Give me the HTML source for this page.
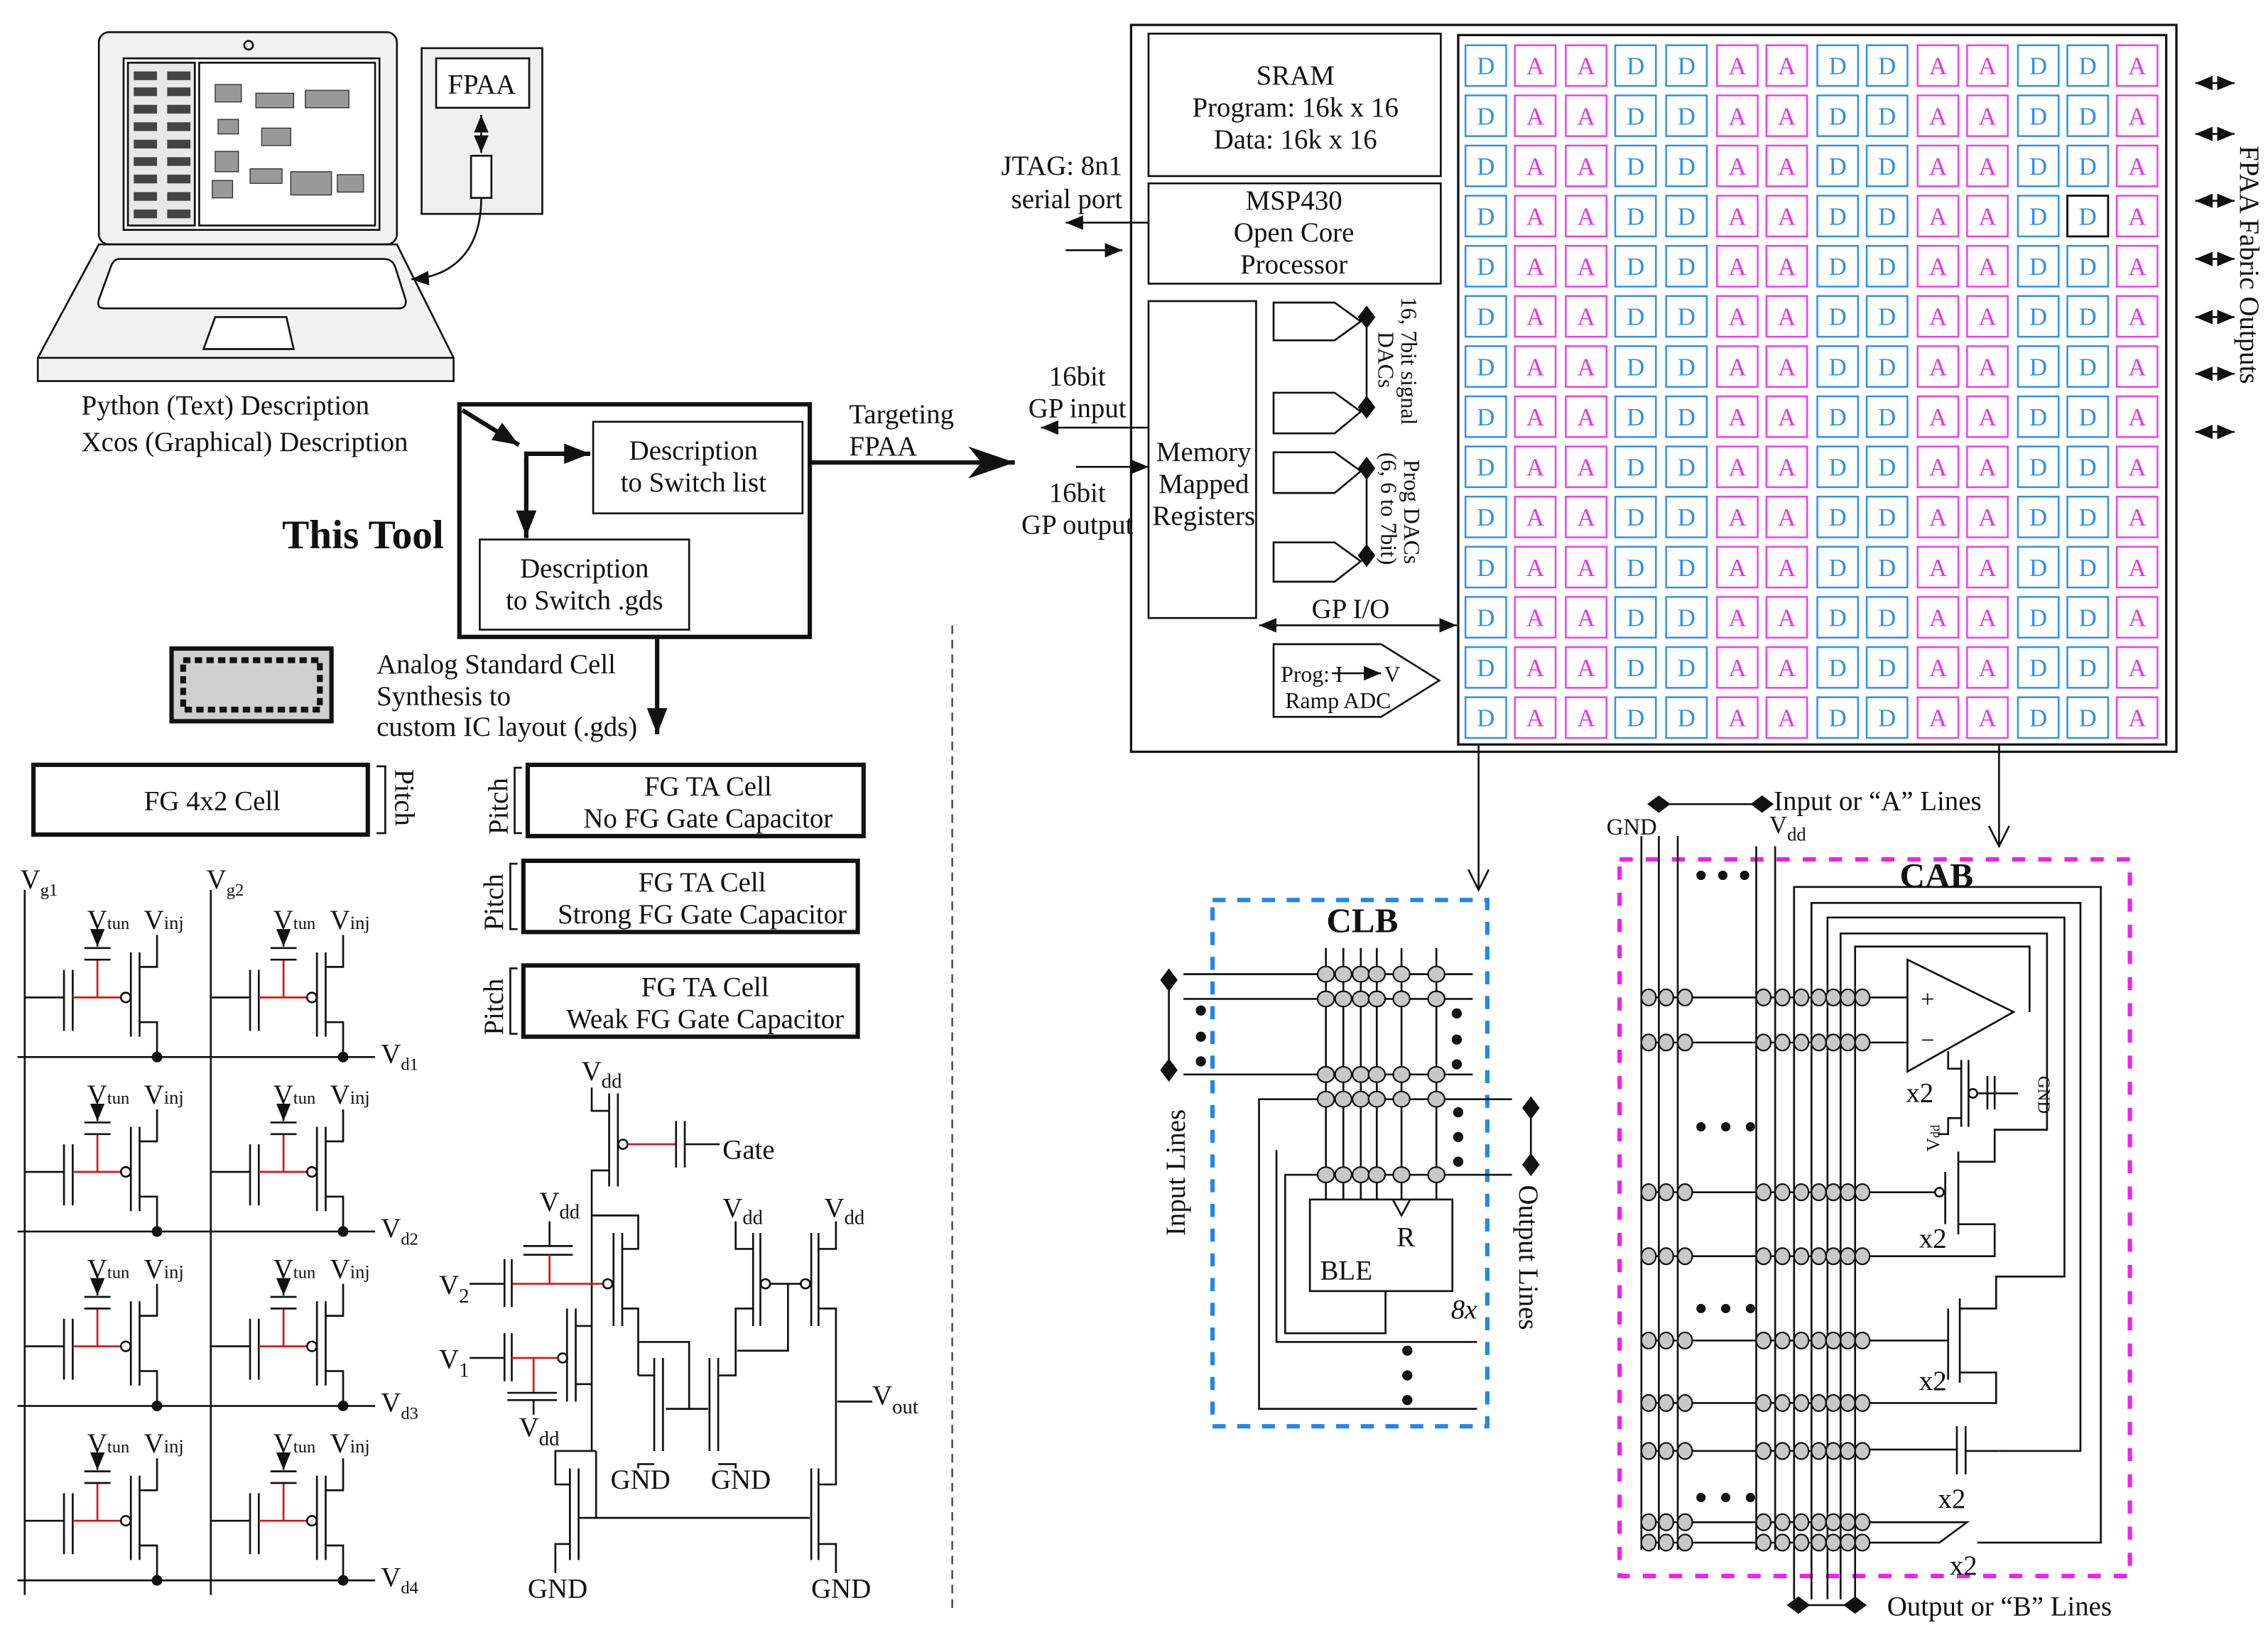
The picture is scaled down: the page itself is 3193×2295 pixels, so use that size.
<!DOCTYPE html>
<html><head><meta charset="utf-8"><style>
html,body{margin:0;padding:0;background:#fff}
svg{display:block}
text{font-family:"Liberation Serif",serif;font-size:19px;fill:#111}
.ln line,.ln path,.ln rect,.ln polygon,.ln circle,.ln ellipse{stroke:#111;stroke-width:1.3;fill:none}
.g rect{width:28px;height:28px;fill:#fff;stroke-width:1.2}
.g rect.d{stroke:#2c8ff0}.g rect.a{stroke:#f03cf0}
.g text{text-anchor:middle;font-size:17px}
.g text.d{fill:#2c8ff0}.g text.a{fill:#e830e8}
.red{stroke:#e01010 !important}
.el ellipse{fill:#c8c8c8;stroke:#111;stroke-width:1.1}
.c{text-anchor:middle}
</style></head><body>
<svg width="3193" height="2295" viewBox="0 0 1560 1121" xmlns="http://www.w3.org/2000/svg">
<defs>
<marker id="ar" markerUnits="userSpaceOnUse" markerWidth="12" markerHeight="10" refX="12" refY="5" orient="auto-start-reverse"><path d="M0,0 L12,5 L0,10 z" fill="#111"/></marker>
<marker id="big" markerUnits="userSpaceOnUse" markerWidth="34" markerHeight="22" refX="32" refY="11" orient="auto"><path d="M0,0 L32,11 L0,22 L9,11 z" fill="#111"/></marker>
<marker id="md" markerUnits="userSpaceOnUse" markerWidth="18" markerHeight="14" refX="18" refY="7" orient="auto"><path d="M0,0 L18,7 L0,14 z" fill="#111"/></marker>
<marker id="op" markerUnits="userSpaceOnUse" markerWidth="16" markerHeight="16" refX="8" refY="15" orient="0"><path d="M1,1 L8,15 L15,1" fill="none" stroke="#111" stroke-width="1.3"/></marker>
<marker id="dm" markerUnits="userSpaceOnUse" markerWidth="16" markerHeight="12" refX="8" refY="6" orient="auto"><path d="M0,6 L8,0 L16,6 L8,12 z" fill="#111"/></marker>
<g id="cell" class="ln">
<line x1="17" y1="686" x2="44" y2="686"/>
<line x1="44" y1="667" x2="44" y2="709"/><line x1="50" y1="667" x2="50" y2="709"/>
<path class="red" d="M50,686 H83 M67,686 V660"/>
<line x1="58" y1="660" x2="76" y2="660"/><line x1="58" y1="652" x2="76" y2="652"/>
<line x1="67" y1="642" x2="67" y2="651" marker-end="url(#ar)"/>
<circle cx="86.5" cy="686" r="3.3"/>
<line x1="90" y1="655" x2="90" y2="713"/><line x1="96" y1="655" x2="96" y2="713"/>
<path d="M96,665 H108 V643 M96,703 H108 V727"/>
<circle cx="108" cy="727" r="3" style="fill:#111"/>
</g>
</defs>

<!-- Laptop -->
<g class="ln">
<rect x="68" y="22" width="205" height="146" rx="7" style="fill:#f2f2f2"/>
<circle cx="171" cy="31" r="3"/>
<rect x="85" y="40" width="176" height="118" style="fill:#fff"/>
<rect x="88" y="43" width="46" height="112" style="fill:#e8e8e8"/>
<rect x="137" y="43" width="121" height="112" style="fill:#fff"/>
<path d="M68,168 L273,168 L312,246 L312,262 L26,262 L26,246 Z" style="fill:#f2f2f2"/>
<line x1="26" y1="246" x2="312" y2="246"/>
<path d="M82,178 L264,178 Q270,178 272,184 L279,206 Q280,212 274,212 L72,212 Q66,212 68,206 L76,184 Q78,178 82,178 Z" style="fill:#fff"/>
<path d="M148,218 L197,218 L202,240 L140,240 Z" style="fill:#fff"/>
<rect x="290" y="33" width="83" height="114" style="fill:#efefef"/>
<rect x="300" y="40" width="64" height="34" style="fill:#fff"/>
<line x1="331" y1="79" x2="331" y2="105" marker-start="url(#ar)" marker-end="url(#ar)"/>
<rect x="324" y="107" width="14" height="29" style="fill:#fff"/>
<path d="M331,136 C331,172 312,190 283,192" marker-end="url(#ar)"/>
</g>
<g fill="#444">
<rect x="92" y="49" width="16" height="6"/><rect x="115" y="49" width="16" height="6"/>
<rect x="92" y="60" width="16" height="6"/><rect x="115" y="60" width="16" height="6"/>
<rect x="92" y="72" width="16" height="6"/><rect x="115" y="72" width="16" height="6"/>
<rect x="92" y="84" width="16" height="6"/><rect x="115" y="84" width="16" height="6"/>
<rect x="92" y="96" width="16" height="6"/><rect x="115" y="96" width="16" height="6"/>
<rect x="92" y="108" width="16" height="6"/><rect x="115" y="108" width="16" height="6"/>
<rect x="92" y="120" width="16" height="6"/><rect x="115" y="120" width="16" height="6"/>
<rect x="92" y="132" width="16" height="6"/><rect x="115" y="132" width="16" height="6"/>
<rect x="92" y="144" width="16" height="6"/><rect x="115" y="144" width="16" height="6"/>
</g>
<g fill="#999" stroke="#222" stroke-width="0.6">
<rect x="148" y="58" width="18" height="12"/><rect x="176" y="64" width="26" height="10"/><rect x="210" y="62" width="30" height="12"/>
<rect x="150" y="82" width="14" height="10"/><rect x="180" y="88" width="20" height="12"/>
<rect x="148" y="104" width="16" height="14"/><rect x="172" y="116" width="22" height="10"/><rect x="200" y="118" width="28" height="16"/><rect x="232" y="120" width="18" height="12"/>
<rect x="146" y="124" width="14" height="12"/>
</g>
<text x="308" y="64" style="font-size:19px">FPAA</text>
<text x="56" y="285">Python (Text) Description</text>
<text x="56" y="310">Xcos (Graphical) Description</text>

<!-- This tool -->
<g class="ln">
<rect x="316" y="278" width="241" height="160" style="stroke-width:3"/>
<rect x="408" y="290" width="144" height="63"/>
<rect x="330" y="371" width="144" height="62"/>
<line x1="318" y1="282" x2="357" y2="306" style="stroke-width:3" marker-end="url(#md)"/>
<path d="M362,370 V312 H406" style="stroke-width:3" marker-end="url(#md)"/>
<line x1="362" y1="315" x2="362" y2="369" style="stroke-width:3" marker-end="url(#md)"/>
<line x1="557" y1="318" x2="698" y2="318" style="stroke-width:3" marker-end="url(#big)"/>
<line x1="452" y1="438" x2="452" y2="505" style="stroke-width:3" marker-end="url(#md)"/>
<line x1="655" y1="430" x2="655" y2="1110" style="stroke:#555;stroke-dasharray:6,4"/>
</g>
<text class="c" x="477" y="316">Description</text><text class="c" x="477" y="338">to Switch list</text>
<text class="c" x="402" y="397">Description</text><text class="c" x="402" y="419">to Switch .gds</text>
<text x="194" y="377" style="font-weight:bold;font-size:28px">This Tool</text>
<text x="584" y="291">Targeting</text><text x="584" y="313">FPAA</text>

<!-- standard cell icon -->
<rect x="118" y="446" width="110" height="50" fill="#cfcfcf" stroke="#111" stroke-width="3"/>
<rect x="126" y="454" width="94" height="34" fill="none" stroke="#111" stroke-width="4" stroke-dasharray="5,3"/>
<text x="259" y="463">Analog Standard Cell</text>
<text x="259" y="485">Synthesis to</text>
<text x="259" y="506">custom IC layout (.gds)</text>

<!-- cell boxes -->
<g class="ln">
<rect x="23" y="526" width="230" height="48" style="stroke-width:3"/>
<rect x="363" y="526" width="231" height="49" style="stroke-width:3"/>
<rect x="360" y="592" width="230" height="49" style="stroke-width:3"/>
<rect x="360" y="664" width="230" height="49" style="stroke-width:3"/>
<path d="M259,527 H265 V573 H259"/>
<path d="M359,528 H354 V573 H359 M356,594 H351 V639 H356 M356,666 H351 V711 H356"/>
</g>
<text class="c" x="146" y="557">FG 4x2 Cell</text>
<text x="272" y="529" transform="rotate(90 272 529)">Pitch</text>
<text x="349" y="574" transform="rotate(-90 349 574)">Pitch</text>
<text x="346" y="640" transform="rotate(-90 346 640)">Pitch</text>
<text x="346" y="712" transform="rotate(-90 346 712)">Pitch</text>
<text class="c" x="487" y="547">FG TA Cell</text><text class="c" x="487" y="569">No FG Gate Capacitor</text>
<text class="c" x="483" y="613">FG TA Cell</text><text class="c" x="483" y="635">Strong FG Gate Capacitor</text>
<text class="c" x="485" y="685">FG TA Cell</text><text class="c" x="485" y="707">Weak FG Gate Capacitor</text>

<!-- FG array -->
<g class="ln">
<line x1="17" y1="612" x2="17" y2="1097"/><line x1="145" y1="612" x2="145" y2="1097"/>
<line x1="12" y1="727" x2="258" y2="727"/><line x1="12" y1="847" x2="258" y2="847"/>
<line x1="12" y1="967" x2="258" y2="967"/><line x1="12" y1="1087" x2="258" y2="1087"/>
</g>
<use href="#cell"/><use href="#cell" x="128"/>
<use href="#cell" y="120"/><use href="#cell" x="128" y="120"/>
<use href="#cell" y="240"/><use href="#cell" x="128" y="240"/>
<use href="#cell" y="360"/><use href="#cell" x="128" y="360"/>
<g style="font-size:18px">
<text x="14" y="611">V<tspan dy="5" style="font-size:12px">g1</tspan></text>
<text x="142" y="611">V<tspan dy="5" style="font-size:12px">g2</tspan></text>
<text x="262" y="731">V<tspan dy="5" style="font-size:12px">d1</tspan></text>
<text x="262" y="851">V<tspan dy="5" style="font-size:12px">d2</tspan></text>
<text x="262" y="971">V<tspan dy="5" style="font-size:12px">d3</tspan></text>
<text x="262" y="1091">V<tspan dy="5" style="font-size:12px">d4</tspan></text>
<text x="60" y="639">V<tspan style="font-size:12px">tun</tspan></text>
<text x="99" y="639">V<tspan style="font-size:13px">inj</tspan></text>
<text x="188" y="639">V<tspan style="font-size:12px">tun</tspan></text>
<text x="227" y="639">V<tspan style="font-size:13px">inj</tspan></text>
<text x="60" y="759">V<tspan style="font-size:12px">tun</tspan></text>
<text x="99" y="759">V<tspan style="font-size:13px">inj</tspan></text>
<text x="188" y="759">V<tspan style="font-size:12px">tun</tspan></text>
<text x="227" y="759">V<tspan style="font-size:13px">inj</tspan></text>
<text x="60" y="879">V<tspan style="font-size:12px">tun</tspan></text>
<text x="99" y="879">V<tspan style="font-size:13px">inj</tspan></text>
<text x="188" y="879">V<tspan style="font-size:12px">tun</tspan></text>
<text x="227" y="879">V<tspan style="font-size:13px">inj</tspan></text>
<text x="60" y="999">V<tspan style="font-size:12px">tun</tspan></text>
<text x="99" y="999">V<tspan style="font-size:13px">inj</tspan></text>
<text x="188" y="999">V<tspan style="font-size:12px">tun</tspan></text>
<text x="227" y="999">V<tspan style="font-size:13px">inj</tspan></text>
</g>

<!-- TA circuit -->
<g class="ln">
<path d="M407,748 V764 H419"/>
<line x1="419" y1="752" x2="419" y2="816"/><line x1="425" y1="752" x2="425" y2="816"/>
<circle cx="428.5" cy="787" r="3.2"/>
<path class="red" d="M432,787 H465"/>
<line x1="465" y1="771" x2="465" y2="803"/><line x1="471" y1="771" x2="471" y2="803"/>
<line x1="471" y1="787" x2="495" y2="787"/>
<path d="M419,805 H407 V998"/>
<path d="M407,836 H439 V859 H428"/>
<line x1="422" y1="848" x2="422" y2="912"/><line x1="428" y1="848" x2="428" y2="912"/>
<circle cx="418" cy="883" r="3.2"/>
<path d="M428,900 H439 V946"/>
<line x1="378" y1="840" x2="378" y2="857"/>
<line x1="360" y1="857" x2="394" y2="857"/><line x1="360" y1="863" x2="394" y2="863"/>
<path class="red" d="M378,863 V883 M352,883 H414"/>
<line x1="323" y1="883" x2="347" y2="883"/>
<line x1="347" y1="866" x2="347" y2="899"/><line x1="352" y1="866" x2="352" y2="899"/>
<line x1="390" y1="900" x2="390" y2="964"/><line x1="396" y1="900" x2="396" y2="964"/>
<circle cx="387" cy="934" r="3.2"/>
<path d="M396,912 H407 M396,952 H407"/>
<line x1="323" y1="934" x2="347" y2="934"/>
<line x1="347" y1="917" x2="347" y2="950"/><line x1="352" y1="917" x2="352" y2="950"/>
<path class="red" d="M352,934 H384 M367,934 V958"/>
<line x1="349" y1="958" x2="383" y2="958"/><line x1="349" y1="963" x2="383" y2="963"/>
<line x1="367" y1="963" x2="367" y2="973"/>
<path d="M410,998 H382 V1021 H392"/>
<line x1="392" y1="1010" x2="392" y2="1073"/><line x1="398" y1="1010" x2="398" y2="1073"/>
<path d="M410,998 V1044 M398,1044 H557"/>
<path d="M392,1062 H382 V1082"/>
<line x1="558" y1="1010" x2="558" y2="1073"/><line x1="563" y1="1010" x2="563" y2="1073"/>
<path d="M563,1021 H575 V900 H563 M563,1062 H575 V1082"/>
<line x1="576" y1="964" x2="600" y2="964"/>
<line x1="558" y1="848" x2="558" y2="912"/><line x1="563" y1="848" x2="563" y2="912"/>
<path d="M575,840 V859 H563"/>
<circle cx="554" cy="883" r="3.2"/>
<line x1="518" y1="848" x2="518" y2="912"/><line x1="523" y1="848" x2="523" y2="912"/>
<path d="M506,840 V859 H518"/>
<circle cx="526.5" cy="883" r="3.2"/>
<path d="M530,883 H551 M542,883 V929 H507"/>
<path d="M518,900 H506 V946 H494"/>
<line x1="450" y1="934" x2="450" y2="998"/><line x1="456" y1="934" x2="456" y2="998"/>
<path d="M439,946 H450 M450,1007 H439 V1010"/>
<path d="M439,923 H474 V969 M458,969 H487"/>
<line x1="488" y1="934" x2="488" y2="998"/><line x1="494" y1="934" x2="494" y2="998"/>
<path d="M494,1007 H506 V1010"/>
</g>
<g style="font-size:19px">
<text x="400" y="743">V<tspan dy="5" style="font-size:14px">dd</tspan></text>
<text x="497" y="797">Gate</text>
<text x="371" y="833">V<tspan dy="5" style="font-size:14px">dd</tspan></text>
<text x="302" y="890">V<tspan dy="6" style="font-size:14px">2</tspan></text>
<text x="302" y="941">V<tspan dy="6" style="font-size:14px">1</tspan></text>
<text x="357" y="988">V<tspan dy="6" style="font-size:14px">dd</tspan></text>
<text x="497" y="837">V<tspan dy="5" style="font-size:14px">dd</tspan></text>
<text x="567" y="837">V<tspan dy="5" style="font-size:14px">dd</tspan></text>
<text x="600" y="966">V<tspan dy="6" style="font-size:14px">out</tspan></text>
<text x="420" y="1024">GND</text><text x="489" y="1024">GND</text>
<text x="363" y="1099">GND</text><text x="558" y="1099">GND</text>
</g>

<!-- FPAA chip -->
<g class="ln">
<rect x="778" y="17" width="719" height="500" style="stroke-width:1.6"/>
<rect x="790" y="23" width="201" height="98"/>
<rect x="790" y="126" width="201" height="69"/>
<rect x="790" y="207" width="74" height="218"/>
<rect x="1003" y="24" width="487" height="488" style="stroke-width:1.6"/>
<line x1="790" y1="153" x2="733" y2="153" marker-end="url(#ar)"/>
<line x1="733" y1="172" x2="772" y2="172" marker-end="url(#ar)"/>
<line x1="790" y1="294" x2="716" y2="294" marker-end="url(#ar)"/>
<line x1="740" y1="321" x2="790" y2="321" marker-end="url(#ar)"/>
<path d="M876,208 H918 L936,221 L918,234 H876 Z"/>
<path d="M876,270 H918 L936,283 L918,298 H876 Z"/>
<path d="M876,311 H918 L936,324 L918,339 H876 Z"/>
<path d="M876,373 H918 L936,386 L918,400 H876 Z"/>
<line x1="940" y1="218" x2="940" y2="280" marker-start="url(#dm)" marker-end="url(#dm)"/>
<line x1="940" y1="322" x2="940" y2="382" marker-start="url(#dm)" marker-end="url(#dm)"/>
<line x1="866" y1="430" x2="1002" y2="430" marker-start="url(#ar)" marker-end="url(#ar)"/>
<path d="M876,443 H950 L990,468 L950,493 H876 Z"/>
<line x1="916" y1="463" x2="950" y2="463" marker-end="url(#ar)"/>
<line x1="1510" y1="57" x2="1537" y2="57" marker-start="url(#ar)" marker-end="url(#ar)"/>
<line x1="1510" y1="92" x2="1537" y2="92" marker-start="url(#ar)" marker-end="url(#ar)"/>
<line x1="1510" y1="138" x2="1537" y2="138" marker-start="url(#ar)" marker-end="url(#ar)"/>
<line x1="1510" y1="178" x2="1537" y2="178" marker-start="url(#ar)" marker-end="url(#ar)"/>
<line x1="1510" y1="218" x2="1537" y2="218" marker-start="url(#ar)" marker-end="url(#ar)"/>
<line x1="1510" y1="257" x2="1537" y2="257" marker-start="url(#ar)" marker-end="url(#ar)"/>
<line x1="1510" y1="297" x2="1537" y2="297" marker-start="url(#ar)" marker-end="url(#ar)"/>
<line x1="1017" y1="512" x2="1017" y2="612" marker-end="url(#op)"/>
<line x1="1375" y1="512" x2="1375" y2="582" marker-end="url(#op)"/>
</g>
<text class="c" x="891" y="58">SRAM</text><text class="c" x="891" y="80">Program: 16k x 16</text><text class="c" x="891" y="102">Data: 16k x 16</text>
<text class="c" x="890" y="144">MSP430</text><text class="c" x="890" y="166">Open Core</text><text class="c" x="890" y="188">Processor</text>
<text x="772" y="120" text-anchor="end">JTAG: 8n1</text><text x="772" y="143" text-anchor="end">serial port</text>
<text class="c" x="741" y="265">16bit</text><text class="c" x="741" y="287">GP input</text>
<text class="c" x="741" y="345">16bit</text><text class="c" x="741" y="367">GP output</text>
<text class="c" x="828" y="317">Memory</text><text class="c" x="828" y="339">Mapped</text><text class="c" x="828" y="361">Registers</text>
<text class="c" x="929" y="425">GP I/O</text>
<text x="881" y="469" style="font-size:15.5px">Prog: I</text><text x="952" y="469" style="font-size:15.5px">V</text>
<text x="884" y="487" style="font-size:15.5px">Ramp ADC</text>
<text x="964" y="204" transform="rotate(90 964 204)" style="font-size:15.5px">16, 7bit signal</text>
<text x="948" y="228" transform="rotate(90 948 228)" style="font-size:15.5px">DACs</text>
<text x="966" y="316" transform="rotate(90 966 316)" style="font-size:15.5px">Prog DACs</text>
<text x="950" y="311" transform="rotate(90 950 311)" style="font-size:15.5px">(6, 6 to 7bit)</text>
<text x="1541" y="100" transform="rotate(90 1541 100)">FPAA Fabric Outputs</text>

<!-- grid -->
<g class="g" id="grow">
<rect class="d" x="1008" y="31"/><text class="d" x="1022" y="51">D</text>
<rect class="a" x="1042" y="31"/><text class="a" x="1056" y="51">A</text>
<rect class="a" x="1077" y="31"/><text class="a" x="1091" y="51">A</text>
<rect class="d" x="1111" y="31"/><text class="d" x="1125" y="51">D</text>
<rect class="d" x="1146" y="31"/><text class="d" x="1160" y="51">D</text>
<rect class="a" x="1181" y="31"/><text class="a" x="1195" y="51">A</text>
<rect class="a" x="1215" y="31"/><text class="a" x="1229" y="51">A</text>
<rect class="d" x="1250" y="31"/><text class="d" x="1264" y="51">D</text>
<rect class="d" x="1284" y="31"/><text class="d" x="1298" y="51">D</text>
<rect class="a" x="1319" y="31"/><text class="a" x="1333" y="51">A</text>
<rect class="a" x="1353" y="31"/><text class="a" x="1367" y="51">A</text>
<rect class="d" x="1388" y="31"/><text class="d" x="1402" y="51">D</text>
<rect class="d" x="1422" y="31"/><text class="d" x="1436" y="51">D</text>
<rect class="a" x="1456" y="31"/><text class="a" x="1470" y="51">A</text>
</g>
<use href="#grow" y="34.5"/><use href="#grow" y="69"/><use href="#grow" y="103.5"/><use href="#grow" y="138"/>
<use href="#grow" y="172.5"/><use href="#grow" y="207"/><use href="#grow" y="241.5"/><use href="#grow" y="276"/>
<use href="#grow" y="310.5"/><use href="#grow" y="345"/><use href="#grow" y="379.5"/><use href="#grow" y="414"/><use href="#grow" y="448.5"/>
<rect x="1422" y="134.5" width="28" height="28" fill="none" stroke="#111" stroke-width="1.4"/>

<!-- CLB -->
<rect x="834" y="619" width="189" height="362" fill="none" stroke="#1e88f0" stroke-width="3" stroke-dasharray="9,8"/>
<text class="c" x="937" y="641" style="font-weight:bold;font-size:24px">CLB</text>
<g class="ln">
<line x1="912" y1="652" x2="912" y2="825"/><line x1="924" y1="652" x2="924" y2="825"/>
<line x1="936" y1="652" x2="936" y2="825"/><line x1="947" y1="652" x2="947" y2="825"/>
<line x1="964" y1="652" x2="964" y2="825"/><line x1="988" y1="652" x2="988" y2="825"/>
<line x1="814" y1="670" x2="1013" y2="670"/><line x1="814" y1="687" x2="1013" y2="687"/>
<line x1="814" y1="739" x2="1013" y2="739"/>
<path d="M1040,756 H866 V969 H1016"/>
<path d="M1040,808 H884 V917 H953 V888"/>
<path d="M878,791 V923 H1016"/>
<rect x="901" y="825" width="98" height="63" style="fill:#fff"/>
<path d="M958,825 L964,836 L970,825"/>
<line x1="804" y1="674" x2="804" y2="736" marker-start="url(#dm)" marker-end="url(#dm)"/>
<line x1="1053" y1="762" x2="1053" y2="801" marker-start="url(#dm)" marker-end="url(#dm)"/>
</g>
<g class="el">
<ellipse cx="912" cy="670" rx="5.7" ry="5.3"/><ellipse cx="924" cy="670" rx="5.7" ry="5.3"/><ellipse cx="936" cy="670" rx="5.7" ry="5.3"/><ellipse cx="947" cy="670" rx="5.7" ry="5.3"/><ellipse cx="964" cy="670" rx="5.7" ry="5.3"/><ellipse cx="988" cy="670" rx="5.7" ry="5.3"/>
<ellipse cx="912" cy="687" rx="5.7" ry="5.3"/><ellipse cx="924" cy="687" rx="5.7" ry="5.3"/><ellipse cx="936" cy="687" rx="5.7" ry="5.3"/><ellipse cx="947" cy="687" rx="5.7" ry="5.3"/><ellipse cx="964" cy="687" rx="5.7" ry="5.3"/><ellipse cx="988" cy="687" rx="5.7" ry="5.3"/>
<ellipse cx="912" cy="739" rx="5.7" ry="5.3"/><ellipse cx="924" cy="739" rx="5.7" ry="5.3"/><ellipse cx="936" cy="739" rx="5.7" ry="5.3"/><ellipse cx="947" cy="739" rx="5.7" ry="5.3"/><ellipse cx="964" cy="739" rx="5.7" ry="5.3"/><ellipse cx="988" cy="739" rx="5.7" ry="5.3"/>
<ellipse cx="912" cy="756" rx="5.7" ry="5.3"/><ellipse cx="924" cy="756" rx="5.7" ry="5.3"/><ellipse cx="936" cy="756" rx="5.7" ry="5.3"/><ellipse cx="947" cy="756" rx="5.7" ry="5.3"/><ellipse cx="964" cy="756" rx="5.7" ry="5.3"/><ellipse cx="988" cy="756" rx="5.7" ry="5.3"/>
<ellipse cx="912" cy="808" rx="5.7" ry="5.3"/><ellipse cx="924" cy="808" rx="5.7" ry="5.3"/><ellipse cx="936" cy="808" rx="5.7" ry="5.3"/><ellipse cx="947" cy="808" rx="5.7" ry="5.3"/><ellipse cx="964" cy="808" rx="5.7" ry="5.3"/><ellipse cx="988" cy="808" rx="5.7" ry="5.3"/>
</g>
<g fill="#111">
<ellipse cx="826" cy="695" rx="3.5" ry="3.5"/><ellipse cx="826" cy="713" rx="3.5" ry="3.5"/><ellipse cx="826" cy="730" rx="3.5" ry="3.5"/>
<ellipse cx="1002" cy="697" rx="3.5" ry="3.5"/><ellipse cx="1002" cy="715" rx="3.5" ry="3.5"/><ellipse cx="1002" cy="732" rx="3.5" ry="3.5"/>
<ellipse cx="1003" cy="765" rx="3.5" ry="3.5"/><ellipse cx="1003" cy="782" rx="3.5" ry="3.5"/><ellipse cx="1003" cy="799" rx="3.5" ry="3.5"/>
<ellipse cx="968" cy="929" rx="3.5" ry="3.5"/><ellipse cx="968" cy="946" rx="3.5" ry="3.5"/><ellipse cx="968" cy="963" rx="3.5" ry="3.5"/>
</g>
<text x="967" y="857" class="c">R</text>
<text x="908" y="880">BLE</text>
<text x="998" y="907" style="font-style:italic">8x</text>
<text x="815" y="850" transform="rotate(-90 815 850)">Input Lines</text>
<text x="1045" y="815" transform="rotate(90 1045 815)">Output Lines</text>

<!-- CAB -->
<rect x="1114" y="591" width="351" height="493" fill="none" stroke="#f020f0" stroke-width="3" stroke-dasharray="9,9"/>
<text class="c" x="1332" y="610" style="font-weight:bold;font-size:24px">CAB</text>
<g class="ln">
<line x1="1129" y1="575" x2="1129" y2="1066"/><line x1="1141" y1="575" x2="1141" y2="1066"/><line x1="1154" y1="575" x2="1154" y2="1066"/>
<line x1="1208" y1="582" x2="1208" y2="1066"/><line x1="1221" y1="582" x2="1221" y2="1066"/>
<path d="M1234,1100 V610 H1445 V1061 H1360"/>
<path d="M1246,1100 V621 H1431 V998 H1375"/>
<path d="M1257,1100 V631 H1420 V878 H1373 V900 H1348"/>
<path d="M1266,1100 V642 H1408 V777 H1372 V799 H1347"/>
<path d="M1276,1100 V651 H1396 V696"/>
<path d="M1312,660 L1385,696 L1312,737 Z"/>
<line x1="1282" y1="686" x2="1312" y2="686"/><line x1="1282" y1="717" x2="1312" y2="717"/>
<path d="M1340,723 V735 H1349 M1349,729 V775 M1354,729 V775 M1349,769 H1340 V780 H1333"/>
<circle cx="1357" cy="752" r="3"/>
<path d="M1360,752 H1388 M1367,740 V763 M1372,740 V763"/>
<path d="M1282,820 H1331"/><circle cx="1334" cy="820" r="3"/>
<line x1="1338" y1="806" x2="1338" y2="842"/><line x1="1347" y1="792" x2="1347" y2="849"/>
<path d="M1347,842 H1372 V864 H1282"/>
<path d="M1282,922 H1340 M1340,900 V949 M1348,893 V951 M1348,944 H1373 V965 H1282"/>
<path d="M1282,997 H1346 M1346,981 V1014 M1352,981 V1014 M1352,998 H1375"/>
<path d="M1282,1047 H1353 L1334,1061 H1282"/>
<line x1="1237" y1="1104" x2="1276" y2="1104" marker-start="url(#dm)" marker-end="url(#dm)"/>
<line x1="1141" y1="553" x2="1212" y2="553" marker-start="url(#dm)" marker-end="url(#dm)"/>
<line x1="1129" y1="686" x2="1282" y2="686"/><line x1="1129" y1="717" x2="1282" y2="717"/>
<line x1="1129" y1="820" x2="1282" y2="820"/><line x1="1129" y1="864" x2="1282" y2="864"/>
<line x1="1129" y1="922" x2="1282" y2="922"/><line x1="1129" y1="965" x2="1282" y2="965"/>
<line x1="1129" y1="998" x2="1282" y2="998"/><line x1="1129" y1="1047" x2="1282" y2="1047"/>
<line x1="1129" y1="1061" x2="1282" y2="1061"/>
</g>
<g class="el" id="cabrow">
<ellipse cx="1134" cy="686" rx="5" ry="5.6"/><ellipse cx="1146" cy="686" rx="5" ry="5.6"/><ellipse cx="1159" cy="686" rx="5" ry="5.6"/>
<ellipse cx="1213" cy="686" rx="5" ry="5.6"/><ellipse cx="1226" cy="686" rx="5" ry="5.6"/><ellipse cx="1239" cy="686" rx="5" ry="5.6"/>
<ellipse cx="1251" cy="686" rx="5" ry="5.6"/><ellipse cx="1261" cy="686" rx="5" ry="5.6"/><ellipse cx="1271" cy="686" rx="5" ry="5.6"/><ellipse cx="1281" cy="686" rx="5" ry="5.6"/>
</g>
<use href="#cabrow" y="31"/><use href="#cabrow" y="134"/><use href="#cabrow" y="178"/><use href="#cabrow" y="236"/>
<use href="#cabrow" y="279"/><use href="#cabrow" y="312"/><use href="#cabrow" y="361"/><use href="#cabrow" y="375"/>
<g fill="#111">
<circle cx="1170" cy="602" r="3.2"/><circle cx="1185" cy="602" r="3.2"/><circle cx="1200" cy="602" r="3.2"/>
<circle cx="1170" cy="775" r="3.2"/><circle cx="1187" cy="775" r="3.2"/><circle cx="1204" cy="775" r="3.2"/>
<circle cx="1170" cy="900" r="3.2"/><circle cx="1187" cy="900" r="3.2"/><circle cx="1204" cy="900" r="3.2"/>
<circle cx="1170" cy="1030" r="3.2"/><circle cx="1187" cy="1030" r="3.2"/><circle cx="1204" cy="1030" r="3.2"/>
</g>
<text x="1321" y="693" style="font-size:17px">+</text><text x="1321" y="721" style="font-size:17px">−</text>
<text x="1311" y="758">x2</text><text x="1320" y="858">x2</text><text x="1320" y="956">x2</text>
<text x="1333" y="1037">x2</text><text x="1341" y="1083">x2</text>
<text x="1402" y="740" transform="rotate(90 1402 740)" style="font-size:12px">GND</text>
<text x="1334" y="792" transform="rotate(-90 1334 792)" style="font-size:13px">V<tspan style="font-size:9px">dd</tspan></text>
<text x="1105" y="574" style="font-size:16px">GND</text>
<text x="1217" y="573" style="font-size:17px">V<tspan dy="5" style="font-size:13px">dd</tspan></text>
<text x="1220" y="557">Input or “A” Lines</text>
<text x="1298" y="1111">Output or “B” Lines</text>
</svg>
</body></html>
